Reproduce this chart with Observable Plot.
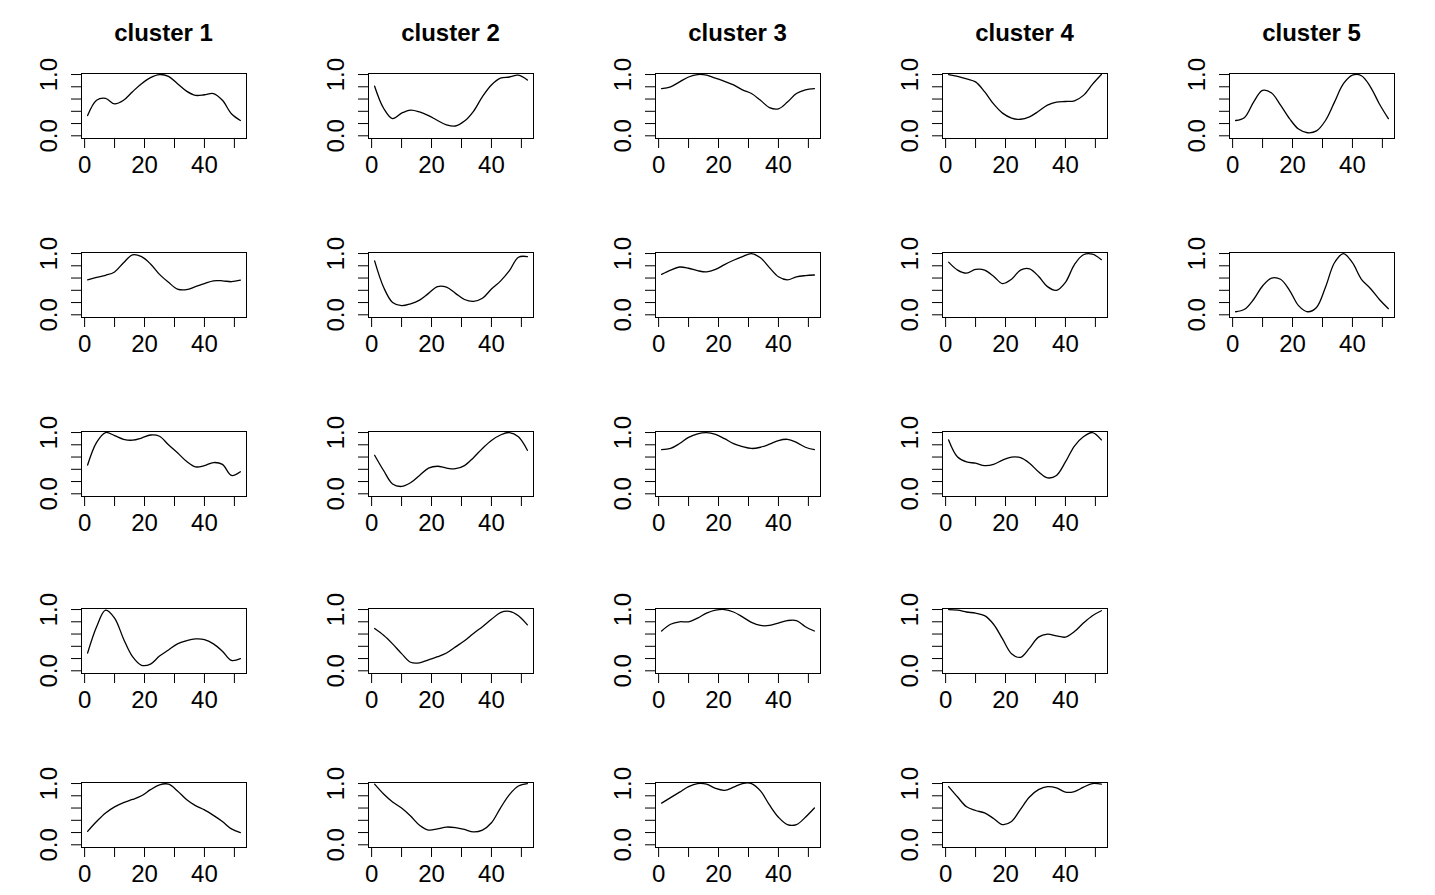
<!DOCTYPE html>
<html><head><meta charset="utf-8">
<script src="https://cdn.jsdelivr.net/npm/d3@7"></script>
<script src="https://cdn.jsdelivr.net/npm/@observablehq/plot@0.6"></script>
<style>
body{margin:0;background:#fff;}
#chart{position:relative;width:1435px;height:895px;overflow:hidden;font-family:"Liberation Sans",Arial,Helvetica,sans-serif;background:#fff;}
.panel{position:absolute;}
.title{position:absolute;font-weight:bold;font-size:24px;line-height:24px;text-align:center;width:165px;color:#000;}
</style></head><body><div id="chart"></div>
<script>
// week positions at which the curves were read
const weeks = [1,4,7,10,13,16,19,22,25,28,31,34,37,40,43,46,49,52];
const clusterNames = ["cluster 1","cluster 2","cluster 3","cluster 4","cluster 5"];
const xTicks = [0,10,20,30,40,50];
const yTicks = [0,0.2,0.4,0.6,0.8,1];
const xLabels = {0:"0",20:"20",40:"40"};
const yLabels = {0:"0.0",1:"1.0"};

// cluster 1
const c1r1 = [.33,.58,.61,.52,.58,.72,.85,.95,1.0,.97,.85,.73,.66,.67,.69,.58,.36,.25];
const c1r2 = [.57,.61,.645,.70,.85,.98,.95,.83,.66,.53,.42,.41,.46,.51,.555,.555,.54,.565];
const c1r3 = [.47,.84,1.0,.95,.89,.875,.91,.96,.94,.80,.67,.53,.44,.46,.51,.48,.30,.36];
const c1r4 = [.29,.72,.99,.86,.52,.23,.09,.11,.24,.34,.44,.49,.52,.51,.44,.32,.17,.20];
const c1r5 = [.22,.38,.52,.62,.69,.74,.80,.90,.98,.99,.88,.74,.64,.57,.48,.38,.26,.20];
// cluster 2
const c2r1 = [.81,.45,.28,.37,.42,.39,.33,.25,.18,.16,.24,.40,.64,.83,.94,.96,.99,.91];
const c2r2 = [.88,.45,.20,.15,.18,.24,.35,.46,.45,.35,.25,.22,.27,.42,.55,.72,.94,.95];
const c2r3 = [.63,.38,.16,.12,.18,.30,.42,.45,.42,.41,.46,.59,.74,.87,.96,1.0,.93,.71];
const c2r4 = [.69,.58,.44,.28,.14,.13,.18,.23,.29,.39,.49,.61,.72,.84,.95,.97,.90,.75];
const c2r5 = [.99,.83,.70,.60,.47,.32,.24,.26,.29,.28,.25,.21,.24,.36,.60,.82,.96,1.0];
// cluster 3
const c3r1 = [.77,.80,.88,.96,1.0,.99,.94,.89,.83,.75,.69,.58,.46,.44,.55,.69,.75,.77];
const c3r2 = [.66,.73,.78,.76,.72,.70,.74,.82,.89,.95,1.0,.93,.77,.62,.57,.62,.64,.65];
const c3r3 = [.72,.74,.82,.92,.98,1.0,.97,.90,.82,.77,.74,.76,.81,.87,.89,.84,.76,.72];
const c3r4 = [.65,.76,.80,.80,.86,.94,.99,1.0,.96,.88,.79,.74,.74,.78,.82,.82,.72,.65];
const c3r5 = [.68,.77,.86,.95,1.0,.99,.92,.89,.94,1.0,1.0,.88,.65,.45,.33,.33,.45,.60];
// cluster 4
const c4r1 = [1.0,.97,.93,.88,.72,.52,.37,.29,.27,.31,.40,.50,.55,.56,.57,.66,.84,1.0];
const c4r2 = [.86,.73,.68,.74,.73,.63,.51,.58,.73,.75,.63,.46,.40,.53,.82,.98,.99,.90];
const c4r3 = [.88,.60,.52,.50,.46,.48,.55,.60,.59,.50,.36,.26,.30,.52,.78,.93,1.0,.88];
const c4r4 = [1.0,.99,.96,.94,.90,.76,.52,.28,.22,.37,.55,.60,.57,.55,.64,.78,.90,.98];
const c4r5 = [.95,.78,.62,.56,.52,.43,.33,.38,.58,.78,.90,.95,.93,.86,.87,.94,1.0,.99];
// cluster 5
const c5r1 = [.25,.30,.55,.74,.70,.50,.28,.11,.05,.08,.25,.55,.85,.99,.98,.80,.52,.28];
const c5r2 = [.05,.09,.25,.47,.60,.58,.40,.15,.05,.12,.45,.85,1.0,.85,.58,.43,.25,.10];

const clusters = [
  [c1r1,c1r2,c1r3,c1r4,c1r5],
  [c2r1,c2r2,c2r3,c2r4,c2r5],
  [c3r1,c3r2,c3r3,c3r4,c3r5],
  [c4r1,c4r2,c4r3,c4r4,c4r5],
  [c5r1,c5r2]
];

const rowTops = [73.3, 251.7, 430.7, 607.7, 781.7];
const cellW = 287, boxLeft = 81, boxW = 165, boxH = 65;
const mt = 10, mb = 60;
const chart = document.getElementById("chart");

clusters.forEach((series, c) => {
  const t = document.createElement("div");
  t.className = "title";
  t.textContent = clusterNames[c];
  t.style.left = (cellW * c + boxLeft) + "px";
  t.style.top = (33 - 12) + "px";
  chart.appendChild(t);

  series.forEach((vals, r) => {
    const svg = Plot.plot({
      width: cellW,
      height: mt + boxH + mb,
      marginLeft: boxLeft,
      marginRight: cellW - boxLeft - boxW,
      marginTop: mt,
      marginBottom: mb,
      style: {fontFamily: '"Liberation Sans", Arial, Helvetica, sans-serif', fontSize: "24px", color: "black", background: "transparent", overflow: "visible"},
      x: {domain: [-1.04, 54.04]},
      y: {domain: [-0.044, 1.017]},
      marks: [
        Plot.frame({stroke: "black", strokeWidth: 1}),
        Plot.axisX({ticks: xTicks, tickSize: 10, tickPadding: 7, label: null, stroke: "black", fontSize: 24,
          tickFormat: d => xLabels[d] ?? ""}),
        Plot.axisY({ticks: yTicks, tickSize: 10, tickRotate: -90, tickPadding: 15, label: null, stroke: "black", fontSize: 24,
          tickFormat: d => yLabels[d] ?? ""}),
        Plot.line(weeks, {x: d => d, y: (d, i) => vals[i], curve: "catmull-rom", stroke: "black", strokeWidth: 1.3})
      ]
    });
    svg.classList.add("panel");
    svg.style.left = (cellW * c) + "px";
    svg.style.top = (rowTops[r] - mt) + "px";
    chart.appendChild(svg);
  });
});
</script></body></html>
